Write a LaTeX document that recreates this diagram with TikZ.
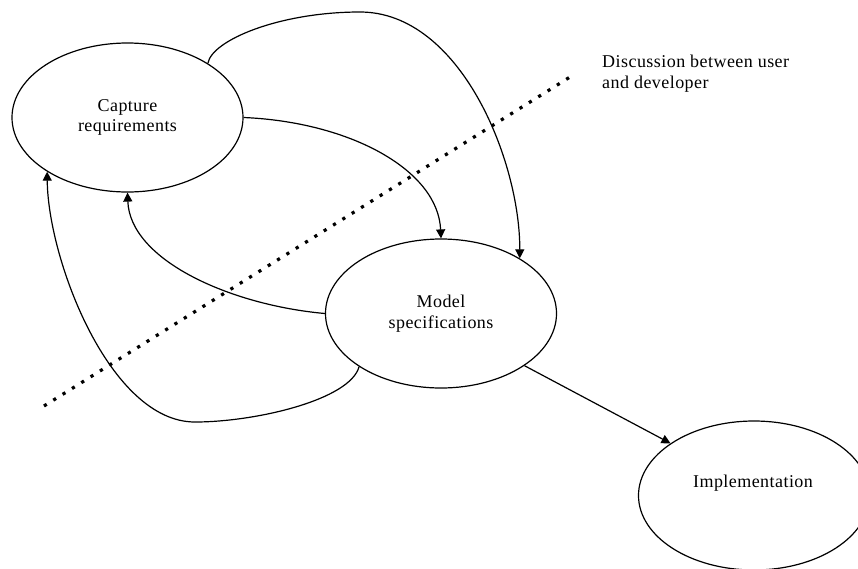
\documentclass[tikz,border=0pt]{standalone}
\usepackage{fontspec}
\setmainfont[LetterSpace=2.5]{Liberation Serif}
\usetikzlibrary{shapes.geometric,arrows.meta}
\begin{document}
\begin{tikzpicture}[x=1pt,y=-1pt,
  txt/.style={font=\fontsize{18}{20.5}\selectfont},
  oval/.style={draw, ellipse, line width=1.2pt, minimum width=231pt,
    minimum height=149pt, inner sep=0pt, align=center, txt},
  flow/.style={line width=1.2pt, -{Triangle[length=9pt,width=9pt]}},
  border/.style={line width=3.2pt, dash pattern=on 3.2pt off 7.8pt},
  note/.style={align=left, inner sep=0pt, txt}]
\useasboundingbox (0,0) rectangle (858,568);
\clip (0,0) rectangle (858,568);
\fill[white] (0,0) rectangle (858,568);

% the three activities
\node[oval] (cap) at (127.5,117.5) {Capture\\requirements};
\node[oval] (mod) at (441,313.5) {Model\\specifications};
\node[oval] (imp) at (754,495.5) {};
\node[note, anchor=center] (imptxt) at (753,483) {Implementation};

% boundary of the user/developer discussion
\coordinate (da) at (44,406);
\coordinate (db) at (570,77);
\draw[border] (da) -- (db);
\node[note, anchor=north west] (disc) at (602,55)
  {Discussion between user\\and developer};

% iteration loops
\draw[flow] (cap.34) .. controls (212,40) and (280,12) .. (360,12)
  .. controls (460,12) and (520,160) .. (mod.35);
\draw[flow] (cap.east) .. controls (350,122) and (438,170) .. (mod.north);
\draw[flow] (mod.west) .. controls (230,305) and (130,260) .. (cap.south);
\draw[flow] (mod.213) .. controls (350,400) and (255,422) .. (195,422)
  .. controls (110,422) and (48,260) .. (cap.214);
\draw[flow] (mod.328) -- (imp.148);
\end{tikzpicture}
\end{document}
